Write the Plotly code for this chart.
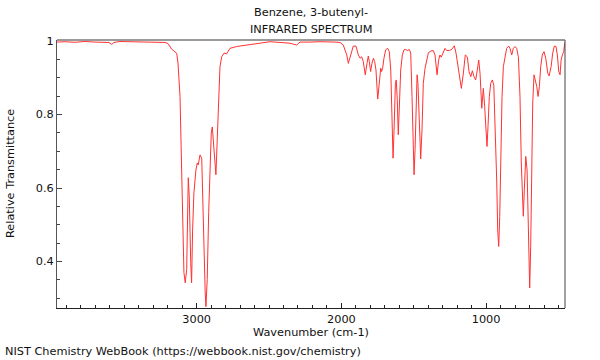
import plotly.graph_objects as go

wavenumber = [
    3965, 3910, 3841, 3772, 3703, 3634, 3606, 3587, 3572, 3530, 3426, 3323, 3254, 3219, 3198,
    3173, 3138, 3129, 3115, 3104, 3097, 3088, 3079, 3069, 3058, 3051, 3041, 3035, 3028, 3019,
    3005, 2996, 2989, 2977, 2965, 2959, 2950, 2941, 2936, 2927, 2917, 2908, 2899, 2892, 2885,
    2876, 2867, 2858, 2848, 2839, 2827, 2811, 2793, 2770, 2724, 2632, 2563, 2493, 2404, 2355,
    2309, 2286, 2217, 2148, 2044, 2010,
    1987, 1963, 1952, 1936, 1918, 1899, 1883, 1871, 1860, 1849, 1835, 1823, 1814, 1807, 1798,
    1789, 1779, 1770, 1761, 1749, 1738, 1728, 1722, 1715, 1706, 1694, 1680, 1669, 1659, 1650,
    1643, 1636, 1627, 1621, 1614, 1607, 1600, 1590, 1579, 1567, 1556, 1545, 1531, 1521, 1512,
    1503, 1498, 1491, 1484, 1477, 1471, 1464, 1452, 1443, 1434, 1422, 1410, 1399, 1381, 1365,
    1353, 1339, 1328, 1319, 1310, 1296, 1284, 1272, 1254, 1238, 1220, 1208, 1196, 1185, 1171,
    1157, 1144, 1130, 1118, 1106, 1095, 1084, 1072, 1061, 1051, 1042, 1035, 1030, 1023, 1019,
    1010, 1001, 994, 987, 978, 968, 957, 947, 938, 927, 920, 913, 906, 899, 890,
    881, 869, 858, 844, 835, 823, 812, 800, 789, 777, 766, 757, 750, 743, 736,
    726, 717, 710, 703, 699, 692, 685, 678, 669, 660, 650, 641, 632, 623, 612,
    600, 588, 574, 565, 551, 540, 529, 517, 508, 498, 489, 482, 473, 464, 457, 450,
]

transmittance = [
    0.997, 0.998, 0.9965, 0.9986, 0.997, 0.9967, 0.996, 0.9905, 0.996, 0.9986, 0.9978, 0.997, 0.9978, 0.996, 0.993,
    0.978, 0.9666, 0.940, 0.849, 0.668, 0.486, 0.370, 0.342, 0.378, 0.628, 0.576, 0.397, 0.342, 0.486, 0.587,
    0.649, 0.668, 0.663, 0.690, 0.681, 0.576, 0.440, 0.315, 0.277, 0.351, 0.533, 0.668, 0.750, 0.766, 0.731,
    0.668, 0.636, 0.731, 0.867, 0.930, 0.957, 0.967, 0.965, 0.980, 0.985, 0.989, 0.994, 0.998, 0.995, 0.994,
    0.989, 0.997, 0.997, 0.998, 0.997, 0.996,
    0.989, 0.962, 0.939, 0.959, 0.986, 0.986, 0.962, 0.953, 0.957, 0.944, 0.908, 0.939, 0.959, 0.944, 0.917,
    0.939, 0.953, 0.944, 0.921, 0.842, 0.894, 0.926, 0.917, 0.926, 0.953, 0.976, 0.980, 0.971, 0.921, 0.804,
    0.681, 0.758, 0.885, 0.894, 0.840, 0.745, 0.804, 0.921, 0.962, 0.976, 0.977, 0.974, 0.977, 0.967, 0.849,
    0.686, 0.636, 0.704, 0.849, 0.908, 0.885, 0.794, 0.679, 0.758, 0.885, 0.926, 0.948, 0.968, 0.973, 0.974,
    0.962, 0.908, 0.948, 0.962, 0.956, 0.967, 0.980, 0.974, 0.974, 0.977, 0.987, 0.967, 0.935, 0.903, 0.871,
    0.913, 0.962, 0.957, 0.917, 0.903, 0.919, 0.903, 0.894, 0.921, 0.948, 0.912, 0.849, 0.817, 0.853, 0.871,
    0.821, 0.740, 0.713, 0.767, 0.849, 0.885, 0.894, 0.880, 0.785, 0.622, 0.486, 0.441, 0.523, 0.713, 0.849,
    0.930, 0.962, 0.980, 0.986, 0.980, 0.962, 0.980, 0.985, 0.980, 0.957, 0.849, 0.668, 0.559, 0.523, 0.595,
    0.686, 0.649, 0.486, 0.378, 0.328, 0.441, 0.668, 0.831, 0.908, 0.894, 0.876, 0.849, 0.876, 0.930, 0.962,
    0.971, 0.953, 0.912, 0.905, 0.930, 0.967, 0.986, 0.985, 0.962, 0.917, 0.908, 0.948, 0.962, 0.971, 0.994, 1.0,
]

title_lines = ["Benzene, 3-butenyl-", "INFRARED SPECTRUM"]
x_title = "Wavenumber (cm-1)"
y_title = "Relative Transmittance"
credit = "NIST Chemistry WebBook (https://webbook.nist.gov/chemistry)"

FONT = "DejaVu Sans"
FS = 11.3

fig = go.Figure()
fig.add_trace(go.Scatter(
    x=wavenumber, y=transmittance, mode="lines",
    line=dict(color="rgb(255,50,50)", width=1),
    hoverinfo="skip", showlegend=False,
))

fig.update_layout(
    width=600, height=360,
    margin=dict(l=57, r=35, t=40, b=52),
    paper_bgcolor="white", plot_bgcolor="white",
    font=dict(family=FONT, size=FS, color="#111"),
    xaxis=dict(
        range=[3965, 455], showgrid=False, zeroline=False,
        showline=True, linecolor="#222", linewidth=1, mirror=False,
        ticks="inside", ticklen=5, tickcolor="#222",
        tick0=0, dtick=1000, tickformat="d",
        minor=dict(ticks="inside", ticklen=3, dtick=100, tick0=0, tickcolor="#222", showgrid=False),
        tickfont=dict(family=FONT, size=FS, color="#111"),
    ),
    yaxis=dict(
        range=[0.2735, 1.0027], showgrid=False, zeroline=False,
        showline=True, linecolor="#555", linewidth=1, mirror=False,
        ticks="inside", ticklen=5, tickcolor="#444",
        tick0=0, dtick=0.2,
        minor=dict(ticks="inside", ticklen=3, dtick=0.05, tick0=0, tickcolor="#444", showgrid=False),
        tickfont=dict(family=FONT, size=FS, color="#111"),
    ),
    shapes=[
        dict(type="line", xref="paper", yref="paper", x0=0, x1=1, y0=1, y1=1,
             line=dict(color="#9a9a9a", width=2)),
        dict(type="line", xref="paper", yref="paper", x0=1, x1=1, y0=0, y1=1,
             line=dict(color="#444", width=1)),
    ],
    annotations=[
        dict(text=title_lines[0], xref="paper", yref="paper", x=0.5, y=1.104,
             showarrow=False, xanchor="center", yanchor="middle", font=dict(size=FS)),
        dict(text=title_lines[1], xref="paper", yref="paper", x=0.5, y=1.041,
             showarrow=False, xanchor="center", yanchor="middle", font=dict(size=FS)),
        dict(text=x_title, xref="paper", yref="paper", x=0.5, y=-0.0896,
             showarrow=False, xanchor="center", yanchor="middle", font=dict(size=FS)),
        dict(text=y_title, xref="paper", yref="paper", x=-0.0925, y=0.5, textangle=-90,
             showarrow=False, xanchor="center", yanchor="middle", font=dict(size=FS)),
        dict(text=credit, xref="paper", yref="paper", x=-0.1063, y=-0.164,
             showarrow=False, xanchor="left", yanchor="middle", font=dict(size=FS)),
    ],
)

fig.write_html(
    "out.html",
    config={"displayModeBar": False},
    post_script="document.body.style.margin='0';document.body.style.padding='0';",
)
